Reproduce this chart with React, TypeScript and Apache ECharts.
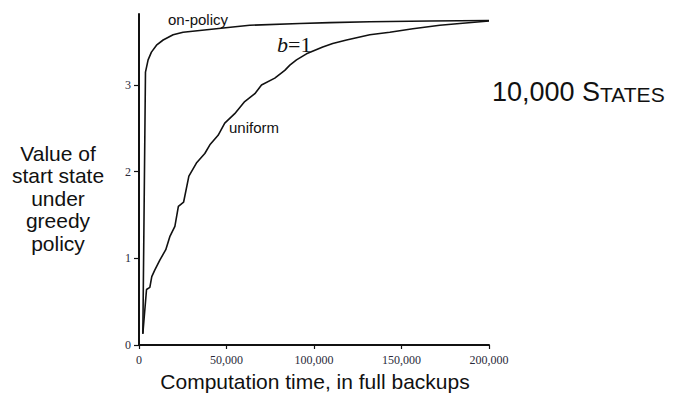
import React, { useEffect, useRef } from "react";
import * as echarts from "echarts";

const xTicks = [0, 50000, 100000, 150000, 200000];
const yTicks = [0, 1, 2, 3];

const onPolicyX = [2200, 3700, 5200, 7100, 10000, 13800, 19500, 25200, 34700, 53600, 63300, 91900, 109000, 131900, 166200, 200000];
const onPolicyY = [0.13, 3.15, 3.29, 3.38, 3.46, 3.52, 3.58, 3.61, 3.63, 3.67, 3.69, 3.71, 3.72, 3.73, 3.74, 3.745];

const uniformX = [2200, 4300, 6200, 7300, 9000, 11900, 15300, 17600, 20500, 22500, 25500, 28500, 32800, 37600, 40500, 45200, 49000, 54700, 60400, 66200, 70000, 77600, 83300, 86200, 90000, 95700, 105000, 110700, 118600, 131900, 143300, 156500, 171900, 183300, 200000];
const uniformY = [0.13, 0.64, 0.665, 0.79, 0.865, 0.98, 1.1, 1.25, 1.37, 1.6, 1.65, 1.95, 2.1, 2.21, 2.31, 2.42, 2.56, 2.67, 2.81, 2.9, 3.0, 3.08, 3.17, 3.23, 3.29, 3.36, 3.44, 3.48, 3.52, 3.58, 3.61, 3.65, 3.69, 3.71, 3.74];

const yTitleLines = ["Value of", "start state", "under", "greedy", "policy"];

export default function App() {
  const ref = useRef<HTMLDivElement>(null);
  useEffect(() => {
    if (!ref.current) return;
    const chart = echarts.init(ref.current, null, { renderer: "svg" });
    const pairs = (xs: number[], ys: number[]) => xs.map((x, i) => [x, ys[i]]);
    const lineStyle = { color: "#111", width: 1.6 };
    chart.setOption({
      animation: false,
      backgroundColor: "#fff",
      grid: { left: 139, right: 191, top: 14, bottom: 51 },
      xAxis: {
        type: "value",
        min: 0,
        max: 200000,
        interval: 50000,
        splitLine: { show: false },
        axisLine: { show: true, lineStyle: { color: "#111", width: 2 } },
        axisTick: { show: true, length: 4, lineStyle: { color: "#111", width: 1.2 }, customValues: xTicks },
        axisLabel: {
          customValues: xTicks,
          fontFamily: "Liberation Serif",
          fontSize: 12,
          color: "#2a2a3a",
          margin: 9,
          formatter: (v: number) => v.toLocaleString("en-US"),
        },
      },
      yAxis: {
        type: "value",
        min: 0,
        max: 3.82,
        interval: 1,
        splitLine: { show: false },
        axisLine: { show: true, lineStyle: { color: "#111", width: 2 } },
        axisTick: { show: true, length: 5, lineStyle: { color: "#111", width: 1.2 }, customValues: yTicks },
        axisLabel: {
          customValues: yTicks,
          fontFamily: "Liberation Serif",
          fontSize: 12,
          color: "#2a2a3a",
          margin: 8,
        },
      },
      series: [
        {
          name: "on-policy",
          type: "line",
          data: pairs(onPolicyX, onPolicyY),
          showSymbol: false,
          lineStyle,
          z: 3,
        },
        {
          name: "uniform",
          type: "line",
          data: pairs(uniformX, uniformY),
          showSymbol: false,
          lineStyle,
          z: 3,
        },
      ],
      graphic: [
        {
          type: "text",
          left: 168,
          top: 12,
          style: { text: "on-policy", font: "15px 'Liberation Sans'", fill: "#111" },
        },
        {
          type: "text",
          left: 229,
          top: 120,
          style: { text: "uniform", font: "15px 'Liberation Sans'", fill: "#111" },
        },
        {
          type: "text",
          left: 277,
          top: 33,
          style: {
            text: "{i|b}{n|=1}",
            rich: {
              i: { fontFamily: "Liberation Serif", fontStyle: "italic", fontSize: 22, fill: "#111" },
              n: { fontFamily: "Liberation Serif", fontSize: 22, fill: "#111" },
            },
          },
        },
        {
          type: "text",
          left: 492,
          top: 78,
          style: {
            text: "{a|10,000 S}{b|TATES}",
            rich: {
              a: { fontFamily: "Liberation Sans", fontSize: 27, fill: "#111", verticalAlign: "bottom" },
              b: { fontFamily: "Liberation Sans", fontSize: 21, fill: "#111", verticalAlign: "bottom" },
            },
          },
        },
        {
          type: "text",
          x: 58,
          y: 142,
          style: {
            text: yTitleLines.join("\n"),
            font: "21px 'Liberation Sans'",
            lineHeight: 22.5,
            align: "center",
            fill: "#111",
          },
        },
        {
          type: "text",
          x: 315,
          y: 371,
          style: {
            text: "Computation time, in full backups",
            font: "21px 'Liberation Sans'",
            align: "center",
            fill: "#111",
          },
        },
      ],
    });
    return () => chart.dispose();
  }, []);
  return <div ref={ref} style={{ position: "fixed", left: 0, top: 0, width: 680, height: 396 }} />;
}
